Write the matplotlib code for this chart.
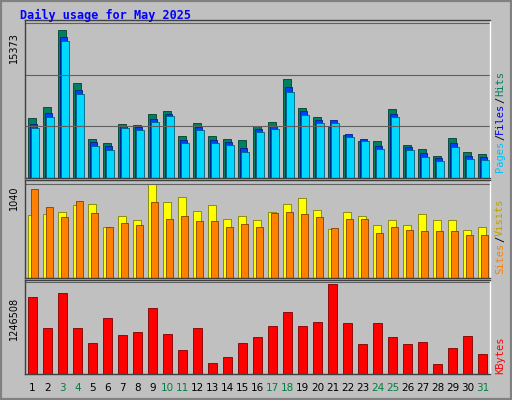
import matplotlib
matplotlib.use("Agg")
import matplotlib.pyplot as plt
import numpy as np

days = list(range(1, 32))
weekend = [3, 4, 10, 11, 17, 18, 24, 25, 31]
hits = [5950, 7040, 14680, 9420, 3870, 3470, 5360, 5260, 6350, 6640, 4170, 5450, 4170, 3870, 3770, 5160,
        5550, 9820, 6940, 6050, 5060, 4270, 3670, 3670, 6840, 3270, 2880, 2180, 3970, 2580, 2380]
pages = [4960, 6050, 13590, 8330, 3170, 2780, 4960, 4760, 5560, 6150, 3470, 4760, 3470, 3270, 2580, 4560,
         4860, 8530, 6250, 5460, 5460, 4070, 3670, 2880, 6050, 2780, 2080, 1690, 3080, 1880, 1790]
files = [5360, 6450, 14000, 8730, 3570, 3170, 5160, 5060, 5860, 6350, 3770, 5060, 3770, 3570, 2980, 4860,
         5160, 9030, 6650, 5750, 5760, 4370, 3870, 3170, 6350, 3070, 2480, 1990, 3480, 2180, 2080]
visits = [701, 713, 735, 803, 814, 565, 690, 645, 1040, 837, 893, 746, 803, 656, 690, 645,
          735, 814, 882, 757, 543, 735, 690, 588, 645, 588, 713, 645, 645, 531, 565]
sites = [984, 791, 678, 848, 724, 565, 611, 588, 837, 656, 690, 633, 633, 565, 599, 565,
         724, 735, 713, 678, 554, 656, 656, 497, 565, 531, 520, 520, 520, 475, 475]
kbytes = [1038000, 623000, 1094000, 623000, 415000, 762000, 526000, 568000, 900000, 540000, 332000,
          623000, 152000, 235000, 415000, 498000, 651000, 845000, 651000, 706000, 1218000, 692000,
          401000, 692000, 498000, 401000, 429000, 138000, 346000, 512000, 277000]
max_hits, max_visits, max_kb = 15373, 1040, 1246508

BG = "#C0C0C0"
fig = plt.figure(figsize=(5.12, 4.0), dpi=100, facecolor=BG)
fig.patches.append(plt.Rectangle((0, 0), 1, 1, transform=fig.transFigure, fill=False,
                                 edgecolor="#808080", lw=3))
W, H = 512, 400
def ax_at(x0, y0, x1, y1):
    a = fig.add_axes([x0 / W, 1 - y1 / H, (x1 - x0) / W, (y1 - y0) / H])
    a.set_facecolor(BG)
    a.set_xlim(0.5, 31.5)
    a.set_xticks([]); a.set_yticks([])
    for s in a.spines.values():
        s.set_color("#404040"); s.set_linewidth(1)
    a.spines["right"].set_color("white")
    return a

x = np.array(days)
bw = 0.5
a1 = ax_at(25, 20, 490, 178)
a1.set_ylim(0, max_hits * 158 / 155)
for lv in [max_hits / 3, 2 * max_hits / 3, max_hits]:
    a1.axhline(lv, color="#606060", lw=0.8)
a1.bar(x - 0.27, hits, bw, color="#008060", edgecolor="#004030", lw=0.6, align="edge")
a1.bar(x - 0.17, files, bw, color="#0040FF", edgecolor="#002080", lw=0.6, align="edge")
a1.bar(x - 0.07, pages, bw, color="#00D8FF", edgecolor="#006080", lw=0.6, align="edge")

a2 = ax_at(25, 180, 490, 278)
a2.set_ylim(0, max_visits * 96 / 92)
a2.axhline(max_visits, color="#606060", lw=0.8)
a2.bar(x - 0.3, visits, bw, color="#FFFF00", edgecolor="#808000", lw=0.6, align="edge")
a2.bar(x - 0.12, sites, bw, color="#FF8000", edgecolor="#804000", lw=0.6, align="edge")

a3 = ax_at(25, 280, 490, 374)
a3.set_ylim(0, max_kb * 92 / 90)
a3.axhline(max_kb, color="#606060", lw=0.8)
a3.bar(x - 0.3, kbytes, 0.6, color="#FF0000", edgecolor="#800000", lw=0.6, align="edge")

for d in days:
    a3.text(d, -0.1, str(d), transform=a3.get_xaxis_transform(), ha="center", va="top",
            fontsize=7.5, color="#008040" if d in weekend else "black")

fig.text(20 / W, 1 - 15 / H, "Daily usage for May 2025", color="#0000FF", fontsize=8.5,
         family="DejaVu Sans Mono", weight="bold", va="center")
for lab, yc in [("15373", 48), ("1040", 198), ("1246508", 318)]:
    fig.text(14 / W, 1 - yc / H, lab, rotation=90, fontsize=7, ha="center", va="center")

def right_label(parts, ybottom):
    y = ybottom
    for t, c in parts:
        fig.text(500 / W, 1 - y / H, t, rotation=90, fontsize=7.5, color=c, ha="center",
                 va="bottom", family="DejaVu Sans Mono")
        y -= len(t) * 6.3
right_label([("Pages", "#00C0FF"), ("/", "black"), ("Files", "#0000FF"), ("/", "black"),
             ("Hits", "#008060")], 172)
right_label([("Sites", "#FF8000"), ("/", "black"), ("Visits", "#C0A000")], 274)
right_label([("KBytes", "#FF0000")], 374)
fig.savefig("out.png", dpi=100, facecolor=BG)
